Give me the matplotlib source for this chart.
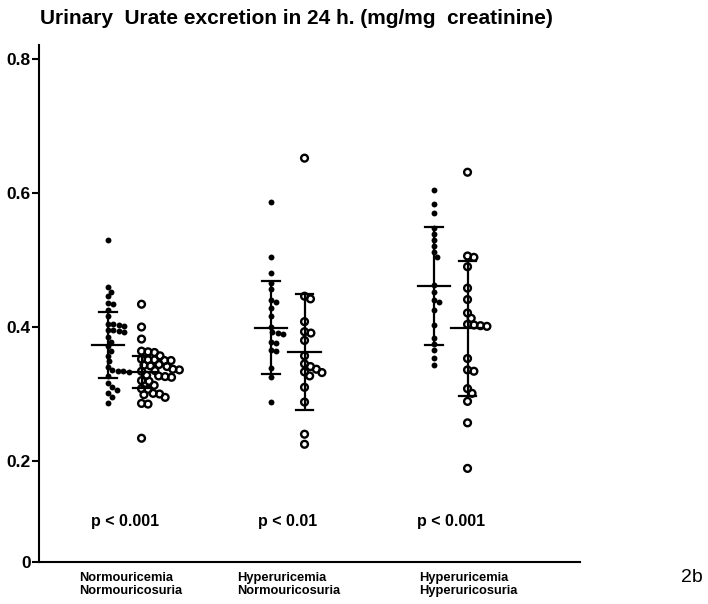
import numpy as np
import matplotlib
matplotlib.use("Agg")
import matplotlib.pyplot as plt

plt.rcParams['font.family'] = ['Liberation Sans', 'DejaVu Sans']

# Urinary urate excretion (mg/mg creatinine) per patient group
groups = ["Normouricemia\nNormouricosuria",
          "Hyperuricemia\nNormouricosuria",
          "Hyperuricemia\nHyperuricosuria"]
p_labels = ["p < 0.001", "p < 0.01", "p < 0.001"]

# filled dots
filled_1 = [0.530, 0.460, 0.453, 0.446, 0.436, 0.434, 0.425, 0.416,
            0.405, 0.404, 0.403, 0.402, 0.396, 0.395, 0.394, 0.393,
            0.385, 0.378, 0.371, 0.364, 0.357, 0.349, 0.341, 0.336,
            0.335, 0.334, 0.333, 0.327, 0.316, 0.310, 0.306, 0.301,
            0.295, 0.287]
filled_2 = [0.587, 0.504, 0.480, 0.466, 0.456, 0.440, 0.438, 0.428,
            0.417, 0.400, 0.392, 0.391, 0.390, 0.378, 0.376, 0.366,
            0.364, 0.339, 0.326, 0.288]
filled_3 = [0.604, 0.584, 0.570, 0.548, 0.539, 0.530, 0.521, 0.512,
            0.505, 0.462, 0.453, 0.441, 0.438, 0.425, 0.403, 0.383,
            0.374, 0.365, 0.354, 0.343]
# open circles
open_1 = [0.434, 0.400, 0.382, 0.364, 0.363, 0.362, 0.357, 0.352,
          0.351, 0.351, 0.350, 0.350, 0.344, 0.343, 0.342, 0.341,
          0.337, 0.336, 0.335, 0.334, 0.328, 0.327, 0.326, 0.325,
          0.320, 0.319, 0.313, 0.308, 0.307, 0.301, 0.300, 0.299,
          0.295, 0.286, 0.285, 0.234]
open_2 = [0.652, 0.446, 0.442, 0.408, 0.393, 0.391, 0.380, 0.357,
          0.345, 0.341, 0.337, 0.333, 0.332, 0.327, 0.310, 0.288,
          0.240, 0.225]
open_3 = [0.631, 0.506, 0.504, 0.490, 0.458, 0.441, 0.421, 0.413,
          0.404, 0.403, 0.402, 0.401, 0.353, 0.336, 0.334, 0.308,
          0.301, 0.289, 0.257, 0.189]

filled = [filled_1, filled_2, filled_3]
opened = [open_1, open_2, open_3]

# mean and SD bars
mean_filled = [0.373, 0.399, 0.461]
sd_filled = [0.049, 0.069, 0.088]
mean_open = [0.333, 0.363, 0.398]
sd_open = [0.024, 0.087, 0.101]

W, H = 708, 604
fig = plt.figure(figsize=(W / 100, H / 100), dpi=100)
ax_l, ax_r, ax_b, ax_t = 39, 580, 562, 45
ax = fig.add_axes([ax_l / W, 1 - ax_b / H, (ax_r - ax_l) / W, (ax_b - ax_t) / H])

xlim = (-0.423, 2.896)
ylim = (0.0493, 0.8209)
ax.set_xlim(*xlim)
ax.set_ylim(*ylim)
xppu = (ax_r - ax_l) / (xlim[1] - xlim[0])
yppu = (ax_b - ax_t) / (ylim[1] - ylim[0])


def swarm_offsets(vals, diam_px):
    """Greedy beeswarm that pushes colliding points to the right."""
    vals = np.asarray(vals, dtype=float)
    order = np.argsort(-vals, kind="stable")
    placed = []
    offs = np.zeros(len(vals))
    for i in order:
        y = vals[i] * yppu
        cands = [0.0]
        for xj, yj in placed:
            dy = abs(y - yj)
            if dy < diam_px:
                cands.append(xj + np.sqrt(diam_px ** 2 - dy ** 2))
        for c in sorted(cands):
            if all((c - xj) ** 2 + (y - yj) ** 2 >= diam_px ** 2 - 1e-6
                   for xj, yj in placed):
                break
        offs[i] = c / xppu
        placed.append((c, y))
    return offs


open_shift = 0.206
mean_half = 0.10
cap_half = 0.055
lw = 1.6

for g in range(3):
    xf = g
    xo = g + open_shift
    for xc, m, s in ((xf, mean_filled[g], sd_filled[g]),
                     (xo, mean_open[g], sd_open[g])):
        ax.plot([xc, xc], [m - s, m + s], color="black", lw=lw, zorder=2,
                solid_capstyle="butt")
        ax.plot([xc - mean_half, xc + mean_half], [m, m], color="black",
                lw=lw, zorder=2)
        for yy in (m - s, m + s):
            ax.plot([xc - cap_half, xc + cap_half], [yy, yy], color="black",
                    lw=lw, zorder=2)

    fv = np.array(filled[g])
    ax.scatter(xf + swarm_offsets(fv, 5.5), fv, s=18, color="black",
               linewidths=0, zorder=3)
    ov = np.array(opened[g])
    ax.scatter(xo + swarm_offsets(ov, 6.5), ov, s=24, facecolors="none",
               edgecolors="black", linewidths=1.7, zorder=3)

    ax.text(g + open_shift / 2, 0.1104, p_labels[g], ha="center",
            va="center", fontsize=11.5, fontweight="bold")

label_x = [0.14, 1.11, 2.21]
for g in range(3):
    ax.text(label_x[g], 0.2 + (461 - 584.5) / yppu, groups[g], ha="center",
            va="center", fontsize=9.3, fontweight="bold", linespacing=1.1,
            multialignment="left", clip_on=False)

for side in ("top", "right"):
    ax.spines[side].set_visible(False)
for side in ("left", "bottom"):
    ax.spines[side].set_linewidth(1.5)

ax.set_xticks([])
ax.set_yticks([ylim[0], 0.2, 0.4, 0.6, 0.8])
ax.set_yticklabels(["0", "0.2", "0.4", "0.6", "0.8"], fontsize=12.5,
                   fontweight="bold")
ax.tick_params(axis="y", length=5, width=1.5, pad=1)

fig.text(40 / W, 1 - 18 / H,
         "Urinary  Urate excretion in 24 h. (mg/mg  creatinine)",
         ha="left", va="center", fontsize=15, fontweight="bold")
fig.text(692 / W, 1 - 578 / H, "2b", ha="center", va="center", fontsize=14)

fig.savefig("out.png", dpi=100)
